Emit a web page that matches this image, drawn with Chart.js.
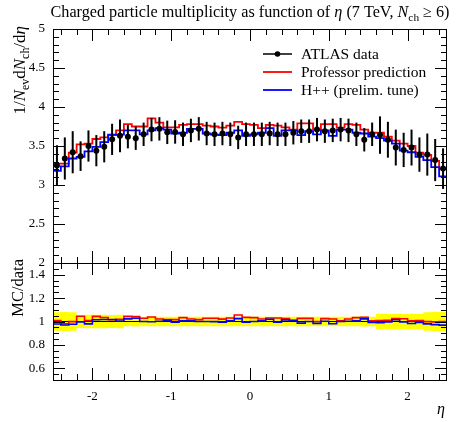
<!DOCTYPE html>
<html>
<head>
<meta charset="utf-8">
<script src="https://cdn.jsdelivr.net/npm/chart.js@4.4.0/dist/chart.umd.min.js"></script>
<style>
  html, body { margin: 0; padding: 0; background: #fff; }
  #wrap { width: 461px; height: 422px; }
</style>
</head>
<body>
<div id="wrap"><canvas id="myChart" width="461" height="422"></canvas></div>
<script>
// bin edges in eta (50 bins of 0.1)
const etaEdges = [-2.5, -2.4, -2.3, -2.2, -2.1, -2.0, -1.9, -1.8, -1.7, -1.6,
  -1.5, -1.4, -1.3, -1.2, -1.1, -1.0, -0.9, -0.8, -0.7, -0.6,
  -0.5, -0.4, -0.3, -0.2, -0.1, 0.0, 0.1, 0.2, 0.3, 0.4,
  0.5, 0.6, 0.7, 0.8, 0.9, 1.0, 1.1, 1.2, 1.3, 1.4,
  1.5, 1.6, 1.7, 1.8, 1.9, 2.0, 2.1, 2.2, 2.3, 2.4, 2.5];

// ATLAS data points and their errors
const atlasData = [3.25, 3.34, 3.42, 3.37, 3.50, 3.44, 3.49, 3.585, 3.63, 3.62,
  3.60, 3.65, 3.71, 3.72, 3.675, 3.68, 3.65, 3.70, 3.72, 3.66,
  3.65, 3.66, 3.65, 3.61, 3.65, 3.65, 3.65, 3.66, 3.65, 3.65,
  3.67, 3.69, 3.69, 3.71, 3.69, 3.70, 3.71, 3.70, 3.65, 3.58,
  3.65, 3.64, 3.58, 3.48, 3.45, 3.48, 3.39, 3.39, 3.32, 3.21];
const atlasErr = [0.26, 0.27, 0.27, 0.19, 0.20, 0.20, 0.20, 0.20, 0.21, 0.15,
  0.15, 0.15, 0.15, 0.15, 0.15, 0.15, 0.15, 0.15, 0.15, 0.15,
  0.15, 0.15, 0.15, 0.15, 0.15, 0.15, 0.15, 0.15, 0.15, 0.15,
  0.15, 0.15, 0.15, 0.15, 0.15, 0.15, 0.15, 0.15, 0.15, 0.15,
  0.15, 0.24, 0.23, 0.23, 0.22, 0.23, 0.22, 0.27, 0.27, 0.26];

// Professor prediction (red)
const professor = [3.275, 3.275, 3.415, 3.52, 3.53, 3.59, 3.61, 3.64, 3.70, 3.78,
  3.75, 3.75, 3.855, 3.80, 3.74, 3.74, 3.77, 3.78, 3.78, 3.76,
  3.75, 3.735, 3.76, 3.81, 3.78, 3.77, 3.73, 3.77, 3.76, 3.74,
  3.71, 3.79, 3.79, 3.71, 3.78, 3.78, 3.735, 3.78, 3.77, 3.71,
  3.67, 3.67, 3.62, 3.57, 3.53, 3.50, 3.415, 3.385, 3.31, 3.21];

// H++ prelim. tune (blue)
const herwig = [3.18, 3.24, 3.34, 3.36, 3.43, 3.49, 3.55, 3.645, 3.645, 3.70,
  3.70, 3.65, 3.70, 3.73, 3.71, 3.66, 3.67, 3.72, 3.72, 3.66,
  3.645, 3.64, 3.67, 3.70, 3.63, 3.65, 3.67, 3.73, 3.63, 3.70,
  3.70, 3.64, 3.69, 3.65, 3.70, 3.63, 3.71, 3.71, 3.67, 3.66,
  3.62, 3.60, 3.57, 3.53, 3.44, 3.42, 3.36, 3.32, 3.23, 3.11];

const xTicks = [-2, -1, 0, 1, 2];
const yMainTicks = [2, 2.5, 3, 3.5, 4, 4.5, 5];
const yRatioTicks = [0.6, 0.8, 1, 1.2, 1.4];
const legendLabels = ['ATLAS data', 'Professor prediction', 'H++ (prelim. tune)'];

const SERIF = "'Liberation Serif', 'DejaVu Serif', serif";

// histogram as step line: one point per left edge plus the last right edge
function steps(vals) {
  const pts = vals.map((v, i) => ({x: etaEdges[i], y: v}));
  pts.push({x: etaEdges[vals.length], y: vals[vals.length - 1]});
  return pts;
}
const centres = atlasData.map((v, i) => ({x: (etaEdges[i] + etaEdges[i + 1]) / 2, y: v}));
const ratioProf = professor.map((v, i) => v / atlasData[i]);
const ratioHerwig = herwig.map((v, i) => v / atlasData[i]);
const bandUp = atlasData.map((v, i) => 1 + atlasErr[i] / v);
const bandDown = atlasData.map((v, i) => 1 - atlasErr[i] / v);

// text with italics / subscripts
function richWidth(ctx, parts, size) {
  let w = 0;
  parts.forEach(p => {
    ctx.font = (p.it ? 'italic ' : '') + (p.sub ? size * 0.7 : size) + 'px ' + SERIF;
    w += ctx.measureText(p.t).width;
  });
  return w;
}
function drawRich(ctx, parts, size, x, y) {
  parts.forEach(p => {
    ctx.font = (p.it ? 'italic ' : '') + (p.sub ? size * 0.7 : size) + 'px ' + SERIF;
    ctx.fillText(p.t, x, p.sub ? y + size * 0.25 : y);
    x += ctx.measureText(p.t).width;
  });
}

const titleParts = [{t: 'Charged particle multiplicity as function of '}, {t: 'η', it: 1},
  {t: ' (7 TeV, '}, {t: 'N', it: 1}, {t: 'ch', sub: 1}, {t: ' ≥ 6)'}];
const yLabelParts = [{t: '1/'}, {t: 'N', it: 1}, {t: 'ev', sub: 1}, {t: 'd'}, {t: 'N', it: 1},
  {t: 'ch', sub: 1}, {t: '/d'}, {t: 'η', it: 1}];

const decor = {
  id: 'decor',
  beforeDatasetDraw(chart, args) {
    if (args.index !== 0) return;
    const ctx = chart.ctx, ys = chart.scales.y;
    const meta = chart.getDatasetMeta(0);
    ctx.save();
    ctx.strokeStyle = '#000';
    ctx.lineWidth = 2;
    meta.data.forEach((pt, i) => {
      ctx.beginPath();
      ctx.moveTo(pt.x, ys.getPixelForValue(atlasData[i] + atlasErr[i]));
      ctx.lineTo(pt.x, ys.getPixelForValue(atlasData[i] - atlasErr[i]));
      ctx.stroke();
    });
    ctx.restore();
  },
  afterDraw(chart) {
    const ctx = chart.ctx;
    const xs = chart.scales.x, ys = chart.scales.y, yr = chart.scales.y2;
    const L = chart.chartArea.left, R = chart.chartArea.right;
    ctx.save();
    ctx.strokeStyle = '#000';
    ctx.lineWidth = 1;

    const panels = [
      {s: ys, lo: 20, hi: 50, div: 10, major: 5},
      {s: yr, lo: 10, hi: 30, div: 20, major: 4}
    ];
    panels.forEach(p => {
      const T = p.s.top, B = p.s.bottom;
      ctx.strokeRect(L + 0.5, T + 0.5, R - L - 1, B - T);
      ctx.beginPath();
      for (let k = -12; k <= 12; k++) {
        const px = Math.round(xs.getPixelForValue(k / 5)) + 0.5;
        const len = k % 5 === 0 ? 12 : 6;
        ctx.moveTo(px, T); ctx.lineTo(px, T + len);
        ctx.moveTo(px, B); ctx.lineTo(px, B - len);
      }
      for (let k = p.lo + 1; k < p.hi; k++) {
        const py = Math.round(p.s.getPixelForValue(k / p.div)) + 0.5;
        const len = k % p.major === 0 ? 12 : 6;
        ctx.moveTo(L, py); ctx.lineTo(L + len, py);
        ctx.moveTo(R, py); ctx.lineTo(R - len, py);
      }
      ctx.stroke();
    });

    // title
    ctx.fillStyle = '#000';
    ctx.textBaseline = 'alphabetic';
    const tw = richWidth(ctx, titleParts, 16.2);
    drawRich(ctx, titleParts, 16.2, (L + R) / 2 - tw / 2, 17);

    // y labels
    ctx.save();
    ctx.translate(25, 26);
    ctx.rotate(-Math.PI / 2);
    const yw = richWidth(ctx, yLabelParts, 17);
    drawRich(ctx, yLabelParts, 17, -yw, 0);
    ctx.restore();

    ctx.save();
    ctx.translate(23, 259);
    ctx.rotate(-Math.PI / 2);
    ctx.font = '16.5px ' + SERIF;
    ctx.textAlign = 'right';
    ctx.fillText('MC/data', 0, 0);
    ctx.restore();

    // x label
    ctx.font = 'italic 16px ' + SERIF;
    ctx.textAlign = 'right';
    ctx.fillText('η', R - 2, 414);

    // legend
    const lx0 = 263, lx1 = 292, tx = 301;
    const rows = [54, 72, 90];
    const cols = ['#000', '#ff0000', '#0000ff'];
    ctx.textAlign = 'left';
    ctx.textBaseline = 'middle';
    ctx.font = '15.5px ' + SERIF;
    legendLabels.forEach((lab, i) => {
      ctx.strokeStyle = cols[i];
      ctx.lineWidth = i === 0 ? 1.5 : 1.8;
      ctx.beginPath();
      ctx.moveTo(lx0, rows[i]); ctx.lineTo(lx1, rows[i]);
      ctx.stroke();
      if (i === 0) {
        ctx.fillStyle = '#000';
        ctx.beginPath();
        ctx.arc((lx0 + lx1) / 2, rows[i], 2.8, 0, Math.PI * 2);
        ctx.fill();
      }
      ctx.fillStyle = '#000';
      ctx.fillText(lab, tx, rows[i] + 1);
    });
    ctx.restore();
  }
};

const stepLine = (data, color, axis, width) => ({
  type: 'line', data: data, yAxisID: axis, stepped: true,
  borderColor: color, borderWidth: width, pointRadius: 0, fill: false
});

new Chart(document.getElementById('myChart'), {
  type: 'line',
  data: {
    datasets: [
      {
        type: 'scatter', data: centres, yAxisID: 'y', order: 0,
        pointRadius: 3, pointBackgroundColor: '#000', pointBorderWidth: 0,
        showLine: false
      },
      Object.assign(stepLine(steps(professor), '#ff0000', 'y', 1.8), {order: 2}),
      Object.assign(stepLine(steps(herwig), '#0000ff', 'y', 1.8), {order: 1}),
      {
        type: 'line', data: steps(bandUp), yAxisID: 'y2', stepped: true, order: 10,
        borderWidth: 0, pointRadius: 0, fill: '+1', backgroundColor: '#ffff00'
      },
      {
        type: 'line', data: steps(bandDown), yAxisID: 'y2', stepped: true, order: 10,
        borderWidth: 0, pointRadius: 0, fill: false
      },
      Object.assign(stepLine(steps(atlasData.map(() => 1)), '#000', 'y2', 1), {order: 5}),
      Object.assign(stepLine(steps(ratioProf), '#ff0000', 'y2', 1.6), {order: 4}),
      Object.assign(stepLine(steps(ratioHerwig), '#0000ff', 'y2', 1.6), {order: 3})
    ]
  },
  options: {
    responsive: false,
    animation: false,
    devicePixelRatio: 1,
    layout: { padding: {left: 0, top: 29, right: 14, bottom: 0} },
    plugins: { legend: {display: false}, tooltip: {enabled: false} },
    scales: {
      x: {
        type: 'linear', min: -2.5, max: 2.5,
        afterBuildTicks: s => { s.ticks = xTicks.map(v => ({value: v})); },
        afterFit: s => { s.height = 42; },
        grid: {display: false, drawTicks: false}, border: {display: false},
        ticks: {color: '#000', padding: 9, font: {family: SERIF, size: 13},
          callback: v => String(v)}
      },
      y2: {
        type: 'linear', position: 'left', stack: 'p', stackWeight: 1, min: 0.5, max: 1.5,
        afterBuildTicks: s => { s.ticks = yRatioTicks.map(v => ({value: v})); },
        afterFit: s => { s.width = 53; },
        grid: {display: false, drawTicks: false}, border: {display: false},
        ticks: {color: '#000', padding: 8, autoSkip: false, font: {family: SERIF, size: 13},
          callback: v => String(v)}
      },
      y: {
        type: 'linear', position: 'left', stack: 'p', stackWeight: 2, min: 2, max: 5,
        afterBuildTicks: s => { s.ticks = yMainTicks.map(v => ({value: v})); },
        afterFit: s => { s.width = 53; },
        grid: {display: false, drawTicks: false}, border: {display: false},
        ticks: {color: '#000', padding: 8, autoSkip: false, font: {family: SERIF, size: 13},
          callback: v => String(v)}
      }
    }
  },
  plugins: [decor]
});
</script>
</body>
</html>
